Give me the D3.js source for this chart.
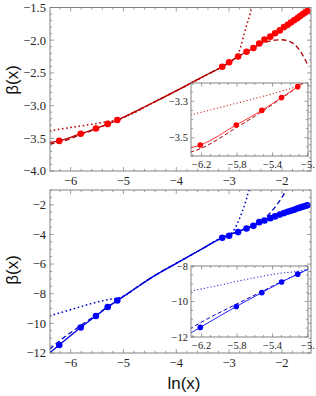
<!DOCTYPE html>
<html lang="en">
<head>
<meta charset="UTF-8">
<title>beta(x) vs ln(x)</title>
<script src="https://cdnjs.cloudflare.com/ajax/libs/d3/7.8.5/d3.min.js"></script>
<style>
    body { margin: 0; background: #fff; }
    svg { display: block; }
    .tick-label { font-family: "Liberation Serif", "DejaVu Serif", serif; fill: #222; }
    .axis-title { font-family: "Liberation Sans", Arial, sans-serif; font-size: 17px; fill: #111; }
</style>
</head>
<body>
<div id="chart"></div>
<script>
// ---- data (ln x, beta) ----
const lnxLow = [-6.215, -5.809, -5.521, -5.298, -5.116];
const redLow = [-3.54, -3.43, -3.35, -3.28, -3.22];
const blueLow = [-11.46, -10.28, -9.50, -8.90, -8.46];

const lnxHigh = [-3.13, -3.00, -2.83, -2.67, -2.54, -2.43, -2.33, -2.22, -2.13, -2.04,
                 -1.96, -1.89, -1.83, -1.77, -1.71, -1.66, -1.61, -1.56, -1.52];
const redHigh = [-2.405, -2.338, -2.25, -2.176, -2.12, -2.05, -1.99, -1.946, -1.894, -1.85,
                 -1.80, -1.765, -1.73, -1.695, -1.665, -1.635, -1.605, -1.578, -1.553];
const blueHigh = [-4.22, -4.09, -3.84, -3.60, -3.42, -3.17, -3.06, -2.90, -2.78, -2.66,
                  -2.56, -2.47, -2.40, -2.33, -2.25, -2.19, -2.13, -2.08, -2.03];

// curves
const redSolid = [[-6.4,-3.565],[-6.215,-3.54],[-5.809,-3.43],[-5.521,-3.35],[-5.298,-3.28],[-5.116,-3.22],
    [-4.5,-2.98],[-3.93,-2.745],[-3.5,-2.56],[-3.13,-2.405],[-2.83,-2.25],[-2.54,-2.12],[-2.22,-1.946],
    [-1.96,-1.80],[-1.71,-1.665],[-1.5,-1.54]];
const redDashed = [[-6.4,-3.59],[-6.215,-3.56],[-5.809,-3.445],[-5.521,-3.357],[-5.298,-3.283],[-5.116,-3.222],
    [-4.5,-2.98],[-3.93,-2.745],[-3.5,-2.56],[-3.13,-2.405],[-2.83,-2.25],[-2.6,-2.15],[-2.43,-2.07],
    [-2.29,-2.025],[-2.13,-1.998],[-2.0,-1.993],[-1.91,-2.005],[-1.785,-2.05],[-1.66,-2.16],[-1.54,-2.33],[-1.5,-2.4]];
const redDotted = [[-6.4,-3.385],[-6.0,-3.335],[-5.6,-3.285],[-5.3,-3.245],[-5.1,-3.212],[-4.9,-3.15],
    [-4.5,-2.98],[-3.93,-2.745],[-3.5,-2.56],[-3.13,-2.405],[-2.95,-2.32],[-2.85,-2.24],[-2.78,-2.1],
    [-2.73,-1.95],[-2.667,-1.77],[-2.6,-1.59],[-2.56,-1.45]];

const blueSolid = [[-6.4,-12.0],[-6.215,-11.46],[-5.809,-10.28],[-5.521,-9.5],[-5.298,-8.9],[-5.116,-8.46],
    [-4.8,-7.7],[-4.5,-6.98],[-4.0,-5.95],[-3.55,-5.05],[-3.13,-4.22],[-2.83,-3.8],[-2.54,-3.4],
    [-2.22,-2.9],[-1.96,-2.56],[-1.71,-2.25],[-1.5,-2.0]];
const blueDashed = [[-6.4,-11.75],[-6.215,-11.2],[-5.809,-10.15],[-5.521,-9.44],[-5.298,-8.88],[-5.116,-8.46],
    [-4.8,-7.7],[-4.5,-6.98],[-4.0,-5.95],[-3.55,-5.05],[-3.13,-4.22],[-2.83,-3.8],[-2.54,-3.4],
    [-2.42,-3.2],[-2.32,-2.92],[-2.2,-2.45],[-2.1,-2.02],[-2.0,-1.5],[-1.9,-0.9]];
const blueDotted = [[-6.4,-9.5],[-6.0,-9.08],[-5.6,-8.66],[-5.3,-8.4],[-5.116,-8.3],[-4.95,-8.08],
    [-4.8,-7.7],[-4.5,-6.98],[-4.0,-5.95],[-3.55,-5.05],[-3.13,-4.22],[-3.0,-4.05],[-2.95,-3.9],
    [-2.85,-3.3],[-2.75,-2.45],[-2.68,-1.7],[-2.62,-0.9]];

// tick labels
const mainXTicks = [-6, -5, -4, -3, -2];
const topYTicks = [-4.0, -3.5, -3.0, -2.5, -2.0, -1.5];
const botYTicks = [-12, -10, -8, -6, -4, -2];
const insetXTicks = [-6.2, -5.8, -5.4, -5.0];
const insetXLabels = ["\u22126.2", "\u22125.8", "\u22125.4", "\u22125."];
const topInsetYTicks = [-3.5, -3.3];
const botInsetYTicks = [-12, -10, -8];

// ---- setup ----
const width = 316, height = 396;
const svg = d3.select("#chart").append("svg")
    .attr("width", width).attr("height", height);

const fmtMinus = s => s.replace("-", "\u2212");

let clipId = 0;

// draws a framed plot (main or inset)
function drawPlot(o) {
    const x = d3.scaleLinear().domain(o.xd).range([o.x0, o.x1]);
    const y = d3.scaleLinear().domain(o.yd).range([o.y1, o.y0]);
    const g = svg.append("g");

    if (o.inset) {
        g.append("rect")
            .attr("x", o.x0).attr("y", o.y0)
            .attr("width", o.x1 - o.x0).attr("height", o.y1 - o.y0)
            .attr("fill", "#fff");
    }

    const id = "clip" + (clipId++);
    svg.append("clipPath").attr("id", id)
        .append("rect").attr("x", o.x0).attr("y", o.y0)
        .attr("width", o.x1 - o.x0).attr("height", o.y1 - o.y0);

    const plot = g.append("g").attr("clip-path", `url(#${id})`);
    const line = d3.line().x(d => x(d[0])).y(d => y(d[1])).curve(d3.curveMonotoneX);

    o.curves.forEach(c => {
        plot.append("path")
            .datum(c.data)
            .attr("d", line)
            .attr("fill", "none")
            .attr("stroke", c.color)
            .attr("stroke-width", c.width)
            .attr("stroke-dasharray", c.dash || null);
    });

    o.points.forEach(p => {
        plot.selectAll(null)
            .data(d3.zip(p.x, p.y))
            .join("circle")
            .attr("cx", d => x(d[0]))
            .attr("cy", d => y(d[1]))
            .attr("r", o.r)
            .attr("fill", p.color);
    });

    // frame
    g.append("rect")
        .attr("x", o.x0).attr("y", o.y0)
        .attr("width", o.x1 - o.x0).attr("height", o.y1 - o.y0)
        .attr("fill", "none").attr("stroke", "#777").attr("stroke-width", 0.9);

    // ticks (inside, on all four sides)
    const tk = g.append("g").attr("stroke", "#777").attr("stroke-width", 0.7);
    const xMinor = d3.range(Math.ceil(o.xd[0] / o.xMinor), Math.floor(o.xd[1] / o.xMinor) + 1)
        .map(i => +(i * o.xMinor).toFixed(4));
    const yMinor = d3.range(Math.ceil(o.yd[0] / o.yMinor), Math.floor(o.yd[1] / o.yMinor) + 1)
        .map(i => +(i * o.yMinor).toFixed(4));
    const isMajor = (v, arr) => arr.some(a => Math.abs(a - v) < 1e-6);

    xMinor.forEach(v => {
        const len = isMajor(v, o.xTicks) ? o.major : o.minor;
        tk.append("line").attr("x1", x(v)).attr("x2", x(v)).attr("y1", o.y1).attr("y2", o.y1 - len);
        tk.append("line").attr("x1", x(v)).attr("x2", x(v)).attr("y1", o.y0).attr("y2", o.y0 + len);
    });
    yMinor.forEach(v => {
        const len = isMajor(v, o.yTicks) ? o.major : o.minor;
        tk.append("line").attr("y1", y(v)).attr("y2", y(v)).attr("x1", o.x0).attr("x2", o.x0 + len);
        tk.append("line").attr("y1", y(v)).attr("y2", y(v)).attr("x1", o.x1).attr("x2", o.x1 - len);
    });

    // labels
    g.selectAll(null).data(o.xTicks).join("text")
        .attr("class", "tick-label")
        .attr("x", (d, i) => x(d))
        .attr("y", o.y1 + o.xLabelDy)
        .attr("text-anchor", "middle")
        .style("font-size", o.font + "px")
        .text((d, i) => o.xLabels ? o.xLabels[i] : fmtMinus(o.xFmt(d)));

    g.selectAll(null).data(o.yTicks).join("text")
        .attr("class", "tick-label")
        .attr("x", o.x0 - o.yLabelDx)
        .attr("y", d => y(d))
        .attr("dy", "0.35em")
        .attr("text-anchor", "end")
        .style("font-size", o.font + "px")
        .text(d => fmtMinus(o.yFmt(d)));
}

// top panel
drawPlot({
    x0: 50, x1: 311, y0: 7.5, y1: 171,
    xd: [-6.39, -1.45], yd: [-4.0, -1.5],
    xTicks: mainXTicks, yTicks: topYTicks, xMinor: 0.2, yMinor: 0.1,
    xFmt: d3.format("d"), yFmt: d3.format(".1f"),
    major: 4, minor: 2.2, font: 12.5, xLabelDy: 14, yLabelDx: 4, r: 3.3,
    curves: [
        { data: redDotted, color: "#c00000", width: 1.5, dash: "1.6,2.6" },
        { data: redDashed, color: "#a80000", width: 1.3, dash: "5,3" },
        { data: redSolid, color: "#b80000", width: 1.3 }
    ],
    points: [
        { x: lnxLow, y: redLow, color: "#ff0000" },
        { x: lnxHigh, y: redHigh, color: "#ff0000" }
    ]
});

// top inset
drawPlot({
    x0: 191, x1: 308, y0: 83, y1: 156, inset: true,
    xd: [-6.32, -5.0], yd: [-3.6, -3.2],
    xTicks: insetXTicks, xLabels: insetXLabels, yTicks: topInsetYTicks, xMinor: 0.1, yMinor: 0.05,
    xFmt: d3.format(".1f"), yFmt: d3.format(".1f"),
    major: 3.5, minor: 2, font: 10.5, xLabelDy: 12, yLabelDx: 3, r: 2.8,
    curves: [
        { data: redDotted, color: "#d03030", width: 1.1, dash: "1.2,2.2" },
        { data: redDashed, color: "#a00000", width: 1, dash: "4,2.5" },
        { data: redSolid, color: "#ff3030", width: 1 }
    ],
    points: [
        { x: lnxLow, y: redLow, color: "#ff0000" }
    ]
});

// bottom panel
drawPlot({
    x0: 50, x1: 311, y0: 190, y1: 353,
    xd: [-6.39, -1.45], yd: [-12, -1],
    xTicks: mainXTicks, yTicks: botYTicks, xMinor: 0.2, yMinor: 0.5,
    xFmt: d3.format("d"), yFmt: d3.format("d"),
    major: 4, minor: 2.2, font: 12.5, xLabelDy: 14, yLabelDx: 4, r: 3.3,
    curves: [
        { data: blueDotted, color: "#0000d0", width: 1.5, dash: "1.6,2.6" },
        { data: blueDashed, color: "#0000c0", width: 1.3, dash: "5,3" },
        { data: blueSolid, color: "#0000e0", width: 1.3 }
    ],
    points: [
        { x: lnxLow, y: blueLow, color: "#0000ff" },
        { x: lnxHigh, y: blueHigh, color: "#0000ff" }
    ]
});

// bottom inset
drawPlot({
    x0: 191, x1: 308, y0: 266, y1: 337, inset: true,
    xd: [-6.32, -5.0], yd: [-12, -8],
    xTicks: insetXTicks, xLabels: insetXLabels, yTicks: botInsetYTicks, xMinor: 0.1, yMinor: 0.5,
    xFmt: d3.format(".1f"), yFmt: d3.format("d"),
    major: 3.5, minor: 2, font: 10.5, xLabelDy: 12, yLabelDx: 3, r: 2.8,
    curves: [
        { data: blueDotted, color: "#3030e0", width: 1.1, dash: "1.2,2.2" },
        { data: blueDashed, color: "#0000c0", width: 1, dash: "4,2.5" },
        { data: blueSolid, color: "#2020ff", width: 1 }
    ],
    points: [
        { x: lnxLow, y: blueLow, color: "#0000ff" }
    ]
});

// axis titles
svg.append("text").attr("class", "axis-title")
    .attr("transform", "translate(18,80) rotate(-90)")
    .attr("text-anchor", "middle")
    .text("\u03b2(x)");
svg.append("text").attr("class", "axis-title")
    .attr("transform", "translate(18,270) rotate(-90)")
    .attr("text-anchor", "middle")
    .text("\u03b2(x)");
svg.append("text").attr("class", "axis-title")
    .attr("x", 184).attr("y", 389)
    .attr("text-anchor", "middle")
    .text("ln(x)");
</script>
</body>
</html>
